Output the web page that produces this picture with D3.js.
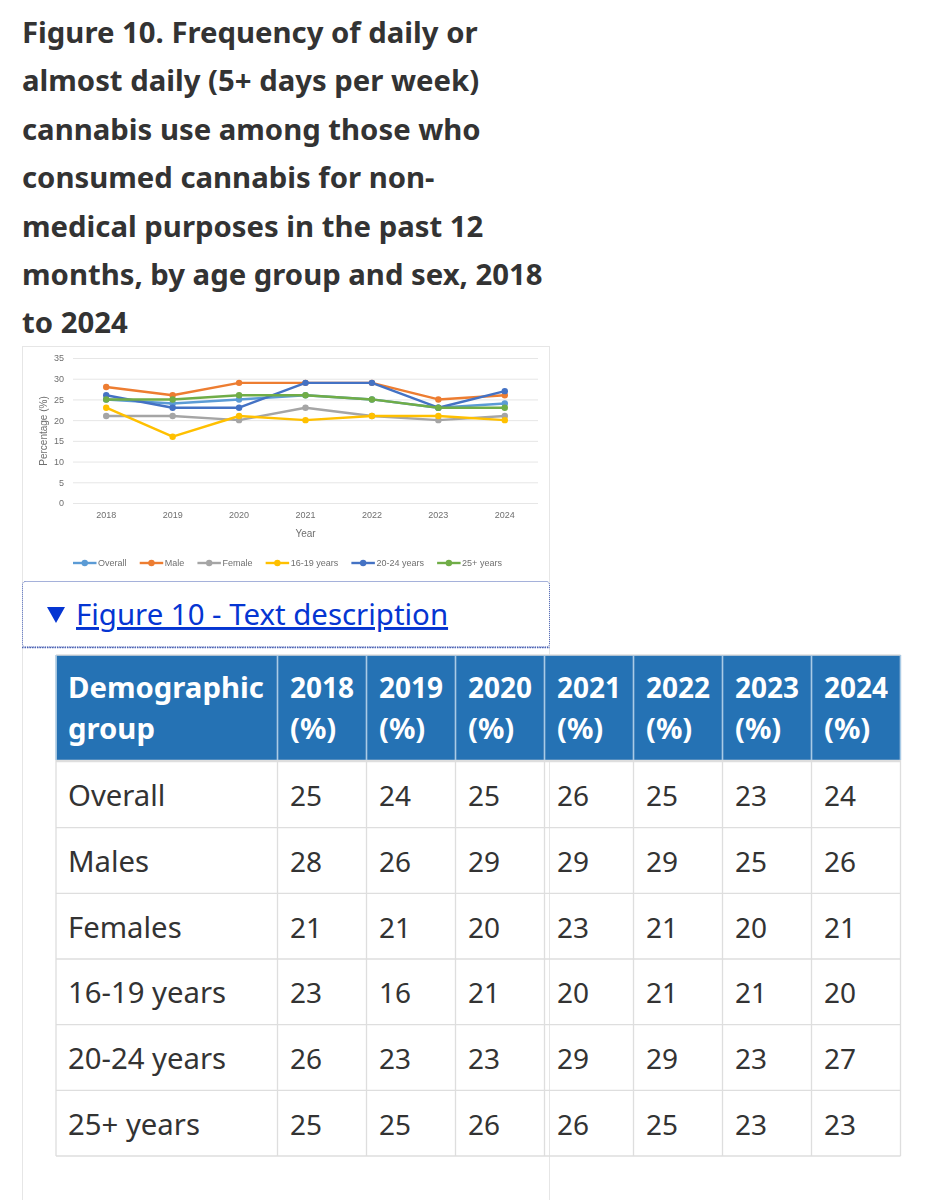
<!DOCTYPE html>
<html>
<head>
<meta charset="utf-8">
<script src="https://cdn.jsdelivr.net/npm/d3@7"></script>
<style>
body { margin: 0; background: #fff; }
svg { display: block; font-family: "Noto Sans", sans-serif; }
.chart { filter: blur(0.35px); }
</style>
</head>
<body>
<div id="page"></div>
<script>
const width = 931
const height = 1200

const titleLines = [
    'Figure 10. Frequency of daily or',
    'almost daily (5+ days per week)',
    'cannabis use among those who',
    'consumed cannabis for non-',
    'medical purposes in the past 12',
    'months, by age group and sex, 2018',
    'to 2024'
]

const years = ['2018', '2019', '2020', '2021', '2022', '2023', '2024']
const yTicks = [0, 5, 10, 15, 20, 25, 30, 35]

// chart legend names and table row names differ a little
const seriesNames = ['Overall', 'Male', 'Female', '16-19 years', '20-24 years', '25+ years']
const groupNames = ['Overall', 'Males', 'Females', '16-19 years', '20-24 years', '25+ years']
const colors = ['#5b9bd5', '#ed7d31', '#a5a5a5', '#ffc000', '#4472c4', '#70ad47']

const overall = [25, 24, 25, 26, 25, 23, 24]
const male = [28, 26, 29, 29, 29, 25, 26]
const female = [21, 21, 20, 23, 21, 20, 21]
const age16to19 = [23, 16, 21, 20, 21, 21, 20]
const age20to24 = [26, 23, 23, 29, 29, 23, 27]
const age25plus = [25, 25, 26, 26, 25, 23, 23]
const allSeries = [overall, male, female, age16to19, age20to24, age25plus]

const svg = d3.select('#page')
    .append('svg')
    .attr('width', width)
    .attr('height', height)

// title
svg.append('g')
    .selectAll('text')
    .data(titleLines)
    .enter()
    .append('text')
    .attr('x', 22)
    .attr('y', (d, i) => 43 + i * 48.4)
    .attr('font-size', 29.3)
    .attr('font-weight', 700)
    .attr('fill', '#333')
    .text(d => d)

// page column border, runs to the bottom of the picture
svg.append('path')
    .attr('d', `M22.5,346 V${height} M549.5,346 V${height} M22,346.5 H550`)
    .attr('fill', 'none')
    .attr('stroke', '#e6e6e6')

// chart
const chart = svg.append('g').attr('class', 'chart')
const axisFont = 'Liberation Sans, sans-serif'
const axisColor = '#6f6f6f'

const x = d3.scaleBand().domain(years).range([73, 538])
const y = d3.scaleLinear().domain([0, 35]).range([503, 358])
const xMid = d => x(d) + x.bandwidth() / 2

const yAxis = chart.append('g')
    .attr('transform', 'translate(73,0)')
    .call(d3.axisLeft(y).tickValues(yTicks).tickSize(-465).tickPadding(9))
yAxis.select('.domain').remove()
yAxis.selectAll('line').attr('stroke', '#e6e6e6')
yAxis.selectAll('text')
    .attr('font-size', 9)
    .attr('font-family', axisFont)
    .attr('fill', axisColor)

const xAxis = chart.append('g')
    .attr('transform', 'translate(0,503)')
    .call(d3.axisBottom(x).tickSize(0).tickPadding(9))
xAxis.select('.domain').remove()
xAxis.selectAll('text')
    .attr('font-size', 9)
    .attr('font-family', axisFont)
    .attr('fill', axisColor)

chart.append('text')
    .attr('transform', 'translate(47,431) rotate(-90)')
    .attr('text-anchor', 'middle')
    .attr('font-size', 10)
    .attr('font-family', axisFont)
    .attr('fill', axisColor)
    .text('Percentage (%)')

chart.append('text')
    .attr('x', 305.5)
    .attr('y', 537)
    .attr('text-anchor', 'middle')
    .attr('font-size', 10)
    .attr('font-family', axisFont)
    .attr('fill', axisColor)
    .text('Year')

const line = d3.line().x((d, i) => xMid(years[i])).y(d => y(d))

const seriesG = chart.append('g')
    .selectAll('g')
    .data(allSeries)
    .enter()
    .append('g')

seriesG.append('path')
    .attr('d', line)
    .attr('fill', 'none')
    .attr('stroke', (d, i) => colors[i])
    .attr('stroke-width', 2.4)
    .attr('stroke-linejoin', 'round')

allSeries.forEach((vals, s) => {
    d3.select(seriesG.nodes()[s])
        .selectAll('circle')
        .data(vals)
        .enter()
        .append('circle')
        .attr('cx', (d, i) => xMid(years[i]))
        .attr('cy', d => y(d))
        .attr('r', 3.2)
        .attr('fill', colors[s])
})

// legend, placed one after the other from measured text widths
let legendX = 73
seriesNames.forEach((name, i) => {
    const g = chart.append('g').attr('transform', `translate(${legendX},563)`)
    g.append('line')
        .attr('x2', 23.5)
        .attr('stroke', colors[i])
        .attr('stroke-width', 2.4)
    g.append('circle')
        .attr('cx', 11.75)
        .attr('r', 3.2)
        .attr('fill', colors[i])
    const t = g.append('text')
        .attr('x', 25)
        .attr('y', 3.3)
        .attr('font-size', 9)
        .attr('font-family', axisFont)
        .attr('fill', axisColor)
        .text(name)
    legendX += 25 + t.node().getComputedTextLength() + 13.2
})

// expanded details box
svg.append('rect')
    .attr('x', 22.5)
    .attr('y', 581.5)
    .attr('width', 527)
    .attr('height', 65.5)
    .attr('rx', 3)
    .attr('fill', '#fff')
    .attr('stroke', '#4a62b4')
    .attr('stroke-dasharray', '1 1')

svg.append('line')
    .attr('x1', 22)
    .attr('x2', 550)
    .attr('y1', 647.5)
    .attr('y2', 647.5)
    .attr('stroke', '#4a62b4')
    .attr('stroke-width', 1.5)
    .attr('stroke-dasharray', '1.5 1')

svg.append('path')
    .attr('d', 'M47,607 H65 L56,623 Z')
    .attr('fill', '#0535d2')

svg.append('text')
    .attr('x', 76)
    .attr('y', 625)
    .attr('font-size', 29.4)
    .attr('fill', '#0535d2')
    .attr('text-decoration', 'underline')
    .text('Figure 10 - Text description')

// data table
const tableLeft = 56
const firstColRight = 277.5
const tableRight = 900.5
const headTop = 655
const headBottom = 760
const rowsTop = 762
const tableBottom = 1156
const textSize = 29.3
const digitSize = 28
const cellPad = 12.5

const col = d3.scaleBand().domain(years).range([firstColRight, tableRight])
const row = d3.scaleBand().domain(groupNames).range([rowsTop, tableBottom])

svg.append('rect')
    .attr('x', tableLeft)
    .attr('y', headTop)
    .attr('width', tableRight - tableLeft)
    .attr('height', headBottom - headTop)
    .attr('fill', '#2572b4')

const headLine = (xPos, yPos, txt, size) => svg.append('text')
    .attr('x', xPos)
    .attr('y', yPos)
    .attr('font-size', size)
    .attr('font-weight', 700)
    .attr('fill', '#fff')
    .text(txt)

headLine(tableLeft + 12, 698, 'Demographic', textSize)
headLine(tableLeft + 12, 739, 'group', textSize)
years.forEach(yr => {
    headLine(col(yr) + cellPad, 698, yr, digitSize)
    headLine(col(yr) + cellPad, 739, '(%)', textSize)
})

// grid lines of the table
const gridColor = '#dedede'
const hLines = [headTop, headBottom + 1].concat(groupNames.map(g => row(g) + row.bandwidth()))
svg.append('g')
    .selectAll('line')
    .data(hLines)
    .enter()
    .append('line')
    .attr('x1', tableLeft)
    .attr('x2', tableRight)
    .attr('y1', d => d)
    .attr('y2', d => d)
    .attr('stroke', gridColor)
    .attr('stroke-width', (d, i) => i === 1 ? 2.5 : 1.3)

const vLines = [tableLeft, firstColRight].concat(years.map(yr => col(yr) + col.bandwidth()))
svg.append('g')
    .selectAll('line')
    .data(vLines)
    .enter()
    .append('line')
    .attr('x1', d => d)
    .attr('x2', d => d)
    .attr('y1', headTop)
    .attr('y2', tableBottom)
    .attr('stroke', gridColor)
    .attr('stroke-width', 1.3)

// inside the blue header the separators read lighter
svg.append('g')
    .selectAll('line')
    .data(vLines)
    .enter()
    .append('line')
    .attr('x1', d => d)
    .attr('x2', d => d)
    .attr('y1', headTop)
    .attr('y2', headBottom)
    .attr('stroke', '#a9cbe6')
    .attr('stroke-width', 1.3)

groupNames.forEach((name, r) => {
    const baseY = row(name) + row.bandwidth() / 2 + 11.5
    svg.append('text')
        .attr('x', tableLeft + 12)
        .attr('y', baseY)
        .attr('font-size', textSize)
        .attr('fill', '#333')
        .text(name)
    svg.append('g')
        .selectAll('text')
        .data(allSeries[r])
        .enter()
        .append('text')
        .attr('x', (d, i) => col(years[i]) + cellPad)
        .attr('y', baseY)
        .attr('font-size', digitSize)
        .attr('fill', '#333')
        .text(d => d)
})
</script>
</body>
</html>
